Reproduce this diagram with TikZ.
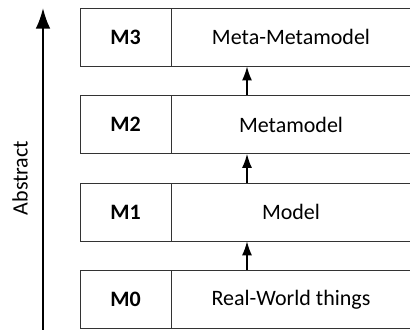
\documentclass[tikz,border=0pt]{standalone}
\usepackage{fontspec}
\setmainfont{Carlito}
\usetikzlibrary{positioning,arrows.meta}

\begin{document}
\begin{tikzpicture}[x=0.75pt,y=0.75pt]
        % Styles
        \tikzstyle{level} = [draw=black!80,line width=0.6pt,inner sep=0pt,
        minimum width=68.25pt, minimum height=43.5pt, font=\fontsize{16.5}{16.5}\selectfont\bfseries]
        \tikzstyle{layer} = [draw=black!80,line width=0.6pt,inner sep=0pt,
        minimum width=180pt, minimum height=43.5pt, font=\fontsize{16.5}{16.5}\selectfont]
        \tikzstyle{up} = [line width=1.1pt,-{Latex[length=10.5pt,width=7.5pt]}]
        \tikzstyle{axis} = [line width=1.5pt,-{Latex[length=15.5pt,width=11pt]}]

        \useasboundingbox (0,0) rectangle (410,-329);

        % Levels
        \node (m3)      [level] at (125.5,-37)          {M3};
        \node (m2)      [level, below=21.5pt of m3]     {M2};
        \node (m1)      [level, below=21.5pt of m2]     {M1};
        \node (m0)      [level, below=21.5pt of m1]     {M0};

        % Layers
        \node (meta2)   [layer, right=-0.6pt of m3]     {Meta-Metamodel};
        \node (meta1)   [layer, right=-0.6pt of m2]     {Metamodel};
        \node (model)   [layer, right=-0.6pt of m1]     {Model};
        \node (real)    [layer, right=-0.6pt of m0]     {Real-World things};

        % Abstraction axis
        \coordinate (ax)  at (247,0);
        \coordinate (top) at (43,-8);
        \coordinate (bot) at (43,-332);
        \draw [axis] (bot) -- (top);
        \node (abs) [rotate=90, font=\fontsize{16.5}{16.5}\selectfont] at (20,-178) {Abstract};

        % Edges
        \draw [up] (real.north -| ax)  -- (model.south -| ax);
        \draw [up] (model.north -| ax) -- (meta1.south -| ax);
        \draw [up] (meta1.north -| ax) -- (meta2.south -| ax);

\end{tikzpicture}
\end{document}
